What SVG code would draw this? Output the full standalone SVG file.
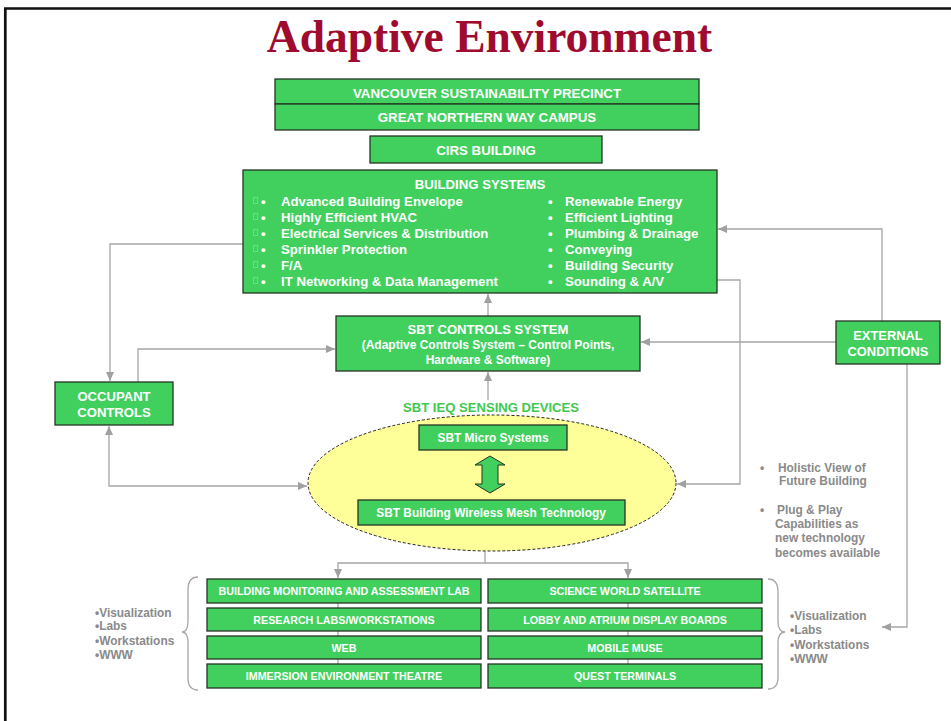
<svg xmlns="http://www.w3.org/2000/svg" width="951" height="721" viewBox="0 0 951 721">
<defs>
<style>
.box{fill:#41D05E;stroke:#253525;stroke-width:1.3}
.wt{fill:#fff;font-family:"Liberation Sans",Arial,sans-serif;font-weight:bold;text-anchor:middle}
.wl{fill:#fff;font-family:"Liberation Sans",Arial,sans-serif;font-weight:bold;font-size:13.2px}
.gt{fill:#8a8a8a;font-family:"Liberation Sans",Arial,sans-serif;font-weight:bold;font-size:11.9px}
.con{fill:none;stroke:#a6a6a6;stroke-width:1.3}
</style>
<marker id="ah" markerUnits="userSpaceOnUse" markerWidth="9" markerHeight="8" refX="9" refY="4" orient="auto-start-reverse" viewBox="0 0 9 8">
<path d="M0,0 L9,4 L0,8 z" fill="#a0a0a0"/>
</marker>
</defs>
<rect x="0" y="0" width="951" height="721" fill="#fff"/>
<path d="M4,8.5 H951 M5.3,8.5 V721" stroke="#111" stroke-width="2.7" fill="none"/>
<text x="489.5" y="52" text-anchor="middle" font-family="'Liberation Serif','Times New Roman',serif" font-weight="bold" font-size="45.5" fill="#9E0B2E">Adaptive Environment</text>

<g id="connectors">
<path class="con" d="M243,244 H110 V381" marker-end="url(#ah)"/>
<path class="con" d="M138,382 V349 H335" marker-end="url(#ah)"/>
<path class="con" d="M109,426 V486 H307" marker-start="url(#ah)" marker-end="url(#ah)"/>
<path class="con" d="M488,316 V294" marker-end="url(#ah)"/>
<path class="con" d="M488,400 V372" marker-end="url(#ah)"/>
<path class="con" d="M717,280 H740 V484 H677" marker-end="url(#ah)"/>
<path class="con" d="M836,342 H641" marker-end="url(#ah)"/>
<path class="con" d="M882,321 V229 H718" marker-end="url(#ah)"/>
<path class="con" d="M907,364 V627 H882" marker-end="url(#ah)"/>
<path class="con" d="M485,551 V563 H338 V578" marker-end="url(#ah)"/>
<path class="con" d="M485,563 H628 V578" marker-end="url(#ah)"/>
<path class="con" d="M338,603 V664 M628,603 V664"/>
<path class="con" d="M198,577 Q188,577 188,590 L188,621 Q188,632 182,632 Q188,632 188,643 L188,678 Q188,690 198,690"/>
<path class="con" d="M768,579 Q778,579 778,592 L778,621 Q778,632 785,632 Q778,632 778,643 L778,677 Q778,689 768,689"/>
</g>

<g id="vsp"><rect class="box" x="275" y="79" width="424" height="25"/><text class="wt" x="487" y="98" font-size="13.3">VANCOUVER SUSTAINABILITY PRECINCT</text></g>
<g id="gnw"><rect class="box" x="275" y="104" width="424" height="26"/><text class="wt" x="487" y="122" font-size="13.3">GREAT NORTHERN WAY CAMPUS</text></g>
<g id="cirs"><rect class="box" x="370" y="136" width="232" height="27"/><text class="wt" x="486" y="155" font-size="13.3">CIRS BUILDING</text></g>

<g id="building-systems">
<rect class="box" x="243" y="170" width="474" height="123"/>
<text class="wt" x="480" y="188.7" font-size="13.2">BUILDING SYSTEMS</text>
<g fill="none" stroke="#7fdc90" stroke-width="0.8">
<rect x="253.5" y="197.5" width="4" height="6"/><rect x="253.5" y="213.5" width="4" height="6"/><rect x="253.5" y="229.5" width="4" height="6"/><rect x="253.5" y="245.5" width="4" height="6"/><rect x="253.5" y="261.5" width="4" height="6"/><rect x="253.5" y="277.5" width="4" height="6"/>
</g>
<g class="wl">
<text x="261" y="205.8">•</text><text x="281" y="205.8">Advanced Building Envelope</text>
<text x="261" y="221.8">•</text><text x="281" y="221.8">Highly Efficient HVAC</text>
<text x="261" y="237.8">•</text><text x="281" y="237.8">Electrical Services &amp; Distribution</text>
<text x="261" y="253.8">•</text><text x="281" y="253.8">Sprinkler Protection</text>
<text x="261" y="269.8">•</text><text x="281" y="269.8">F/A</text>
<text x="261" y="285.8">•</text><text x="281" y="285.8">IT Networking &amp; Data Management</text>
<text x="548" y="205.8">•</text><text x="565" y="205.8">Renewable Energy</text>
<text x="548" y="221.8">•</text><text x="565" y="221.8">Efficient Lighting</text>
<text x="548" y="237.8">•</text><text x="565" y="237.8">Plumbing &amp; Drainage</text>
<text x="548" y="253.8">•</text><text x="565" y="253.8">Conveying</text>
<text x="548" y="269.8">•</text><text x="565" y="269.8">Building Security</text>
<text x="548" y="285.8">•</text><text x="565" y="285.8">Sounding &amp; A/V</text>
</g>
</g>

<g id="sbt-controls">
<rect class="box" x="336" y="316" width="304" height="55"/>
<text class="wt" x="488" y="334" font-size="13.1">SBT CONTROLS SYSTEM</text>
<text class="wt" x="488" y="349.3" font-size="12">(Adaptive Controls System – Control Points,</text>
<text class="wt" x="488" y="363.6" font-size="12">Hardware &amp; Software)</text>
</g>

<g id="occupant">
<rect class="box" x="55" y="382" width="118" height="43"/>
<text class="wt" x="114" y="401.4" font-size="13.1">OCCUPANT</text>
<text class="wt" x="114" y="417" font-size="13.1">CONTROLS</text>
</g>

<g id="external">
<rect class="box" x="836" y="321" width="104" height="43"/>
<text class="wt" x="888" y="340.4" font-size="12.9">EXTERNAL</text>
<text class="wt" x="888" y="355.7" font-size="12.9">CONDITIONS</text>
</g>

<g id="ieq">
<text x="491" y="412" text-anchor="middle" font-family="'Liberation Sans',Arial,sans-serif" font-weight="bold" font-size="13.1" fill="#41C84F">SBT IEQ SENSING DEVICES</text>
<ellipse cx="492" cy="483" rx="184" ry="68" fill="#FFFF99" stroke="#222" stroke-width="1" stroke-dasharray="3,2"/>
</g>

<g id="micro">
<rect class="box" x="419" y="425" width="148" height="25"/>
<text class="wt" x="493" y="442" font-size="11.9">SBT Micro Systems</text>
</g>
<g id="double-arrow">
<path d="M490,456 L505,465 L498,465 L498,484 L505,484 L490,493 L475,484 L482,484 L482,465 L475,465 z" fill="#41D05E" stroke="#253525" stroke-width="1"/>
</g>
<g id="mesh">
<rect class="box" x="358" y="500" width="267" height="25"/>
<text class="wt" x="491" y="517" font-size="11.9">SBT Building Wireless Mesh Technology</text>
</g>

<g id="bmal"><rect class="box" x="207" y="579" width="274" height="24"/><text class="wt" x="344" y="594.8" font-size="10.7">BUILDING MONITORING AND ASSESSMENT LAB</text></g>
<g id="research"><rect class="box" x="207" y="608" width="274" height="23"/><text class="wt" x="344" y="623.8" font-size="10.7">RESEARCH LABS/WORKSTATIONS</text></g>
<g id="web"><rect class="box" x="207" y="636" width="274" height="23"/><text class="wt" x="344" y="652.1" font-size="10.7">WEB</text></g>
<g id="immersion"><rect class="box" x="207" y="664" width="274" height="24"/><text class="wt" x="344" y="679.8" font-size="10.7">IMMERSION ENVIRONMENT THEATRE</text></g>

<g id="science"><rect class="box" x="488" y="579" width="274" height="24"/><text class="wt" x="625" y="594.8" font-size="10.7">SCIENCE WORLD SATELLITE</text></g>
<g id="lobby"><rect class="box" x="488" y="608" width="274" height="23"/><text class="wt" x="625" y="623.8" font-size="10.7">LOBBY AND ATRIUM DISPLAY BOARDS</text></g>
<g id="muse"><rect class="box" x="488" y="636" width="274" height="23"/><text class="wt" x="625" y="652.1" font-size="10.7">MOBILE MUSE</text></g>
<g id="quest"><rect class="box" x="488" y="664" width="274" height="24"/><text class="wt" x="625" y="679.8" font-size="10.7">QUEST TERMINALS</text></g>

<g id="notes" class="gt">
<text x="760" y="471.5">•</text><text x="778" y="471.5">Holistic View of</text>
<text x="779" y="485">Future Building</text>
<text x="760" y="514">•</text><text x="777" y="514">Plug &amp; Play</text>
<text x="775" y="528">Capabilities as</text>
<text x="775" y="542">new technology</text>
<text x="775" y="557">becomes available</text>
</g>
<g id="list-left" class="gt">
<text x="95" y="616.5">•Visualization</text>
<text x="95" y="630">•Labs</text>
<text x="95" y="645">•Workstations</text>
<text x="95" y="659">•WWW</text>
</g>
<g id="list-right" class="gt">
<text x="790" y="620">•Visualization</text>
<text x="790" y="634">•Labs</text>
<text x="790" y="649">•Workstations</text>
<text x="790" y="663">•WWW</text>
</g>
</svg>
